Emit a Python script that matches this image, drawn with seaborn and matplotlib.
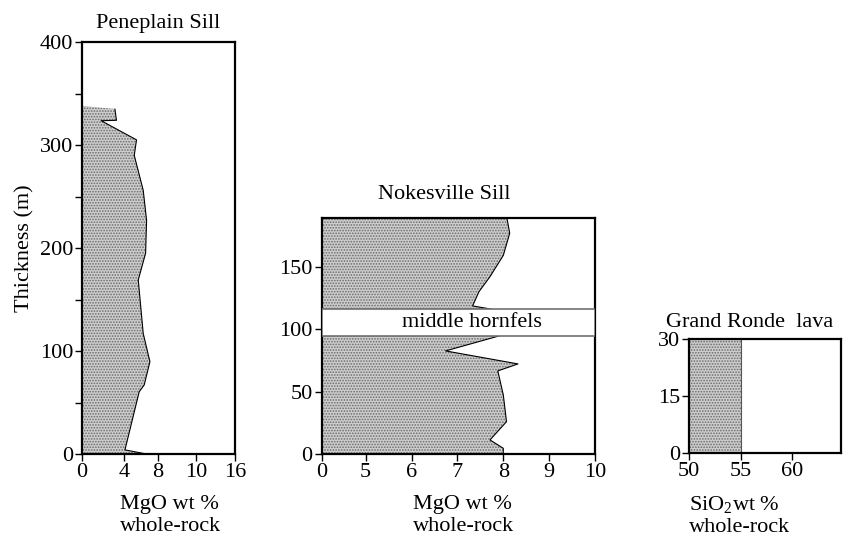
import numpy as np
import pandas as pd
import matplotlib
matplotlib.use("Agg")
import matplotlib.pyplot as plt
import seaborn as sns

# ---- data ----
pen_mgo = [3.44, 3.6, 2.0, 5.7, 5.46, 6.4, 6.75, 6.65, 5.88, 6.4, 7.1, 6.5, 5.98, 4.49, 6.75]
pen_thk = [335, 324, 323.6, 305, 290, 256, 227, 195, 169, 117, 89.6, 67, 60.5, 4, 0]
pen_top = 338
pen_xticks = [0, 4.4, 7.9, 11.9, 16]
pen_xlabels = ["0", "4", "8", "10", "16"]
pen_yticks = [0, 100, 200, 300, 400]

nok_mgo = [8.08, 8.14, 8.0, 7.71, 7.47, 7.33, 7.74, 7.93, 6.74, 8.32, 7.88, 8.0, 8.07, 7.71, 8.0, 8.0]
nok_thk = [188.7, 176.7, 159, 142, 130, 118.6, 116, 94.8, 82.6, 72.2, 66.6, 47.4, 26, 11.4, 4.7, 0]
nok_band = [94.8, 115.9]
nok_xticks = [4.04, 5, 6, 7, 8, 9, 10]
nok_xlabels = ["0", "5", "6", "7", "8", "9", "10"]
nok_yticks = [0, 50, 100, 150]

gr_sio2 = [55, 55]
gr_thk = [30, 0]
gr_xticks = [50, 55, 60]
gr_yticks = [0, 15, 30]

sns.set_theme(style="ticks")
plt.rcParams["font.family"] = ["Liberation Serif", "DejaVu Serif"]
plt.rcParams["mathtext.fontset"] = "custom"
plt.rcParams["mathtext.rm"] = "Liberation Serif"
plt.rcParams["mathtext.it"] = "Liberation Serif:italic"
plt.rcParams["hatch.linewidth"] = 0.8
plt.rcParams["text.color"] = "black"
plt.rcParams["axes.labelcolor"] = "black"
plt.rcParams["axes.titlecolor"] = "black"

FS = 16
fig = plt.figure(figsize=(8.5, 5.38), dpi=100)
ax1 = fig.add_axes([0.0965, 0.1561, 0.18, 0.7658])
ax2 = fig.add_axes([0.3785, 0.1558, 0.3215, 0.4385])
ax3 = fig.add_axes([0.8106, 0.1574, 0.1788, 0.2119])

def style(ax):
    for s in ax.spines.values():
        s.set_linewidth(1.6)
        s.set_color("black")
    ax.tick_params(axis="both", which="both", direction="out", length=5, width=1,
                   labelsize=FS, colors="black", pad=1.5)
    ax.tick_params(axis="y", which="both", right=False)
    ax.tick_params(axis="x", which="both", top=False)

def stipple(ax, xs, ys):
    ax.fill(xs, ys, facecolor="#cdcdcd", edgecolor="#6a6a6a", hatch="......", linewidth=0, zorder=1)

# Peneplain
stipple(ax1, np.r_[0, 0, pen_mgo, 0], np.r_[0, pen_top, pen_thk, 0])
df1 = pd.DataFrame({"mgo": pen_mgo, "thk": pen_thk})
sns.lineplot(data=df1, x="mgo", y="thk", sort=False, estimator=None, color="black",
             lw=0.8, ax=ax1, orient="y")
ax1.set_xlim(0, 16)
ax1.set_ylim(0, 400)
ax1.set_xticks(pen_xticks)
ax1.set_xticklabels(pen_xlabels)
ax1.set_yticks(pen_yticks)
ax1.set_yticks([50, 150, 250, 350], minor=True)
style(ax1)
ax1.set_xlabel("")
ax1.set_ylabel("Thickness (m)", fontsize=FS, labelpad=4)
ax1.set_title("Peneplain Sill", fontsize=FS, pad=10)
ax1.text(0.245, -0.1, "MgO wt %\nwhole-rock", transform=ax1.transAxes, fontsize=FS,
         ha="left", va="top", linespacing=1.2)

# Nokesville
stipple(ax2, np.r_[0, nok_mgo, 0], np.r_[nok_thk[0], nok_thk, 0])
df2 = pd.DataFrame({"mgo": nok_mgo, "thk": nok_thk})
sns.lineplot(data=df2, x="mgo", y="thk", sort=False, estimator=None, color="black",
             lw=0.8, ax=ax2, orient="y")
ax2.axhspan(nok_band[0], nok_band[1], facecolor="white", edgecolor="#707070", lw=1.2, zorder=3)
ax2.text(0.55, (nok_band[0] + nok_band[1]) / 2, "middle hornfels", transform=ax2.get_yaxis_transform(),
         ha="center", va="center", fontsize=FS, zorder=4)
ax2.set_xlim(4.04, 10)
ax2.set_ylim(0, 188.7)
ax2.set_xticks(nok_xticks)
ax2.set_xticklabels(nok_xlabels)
ax2.set_yticks(nok_yticks)
style(ax2)
ax2.set_xlabel("")
ax2.set_ylabel("")
ax2.text(0.45, 1.1, "Nokesville Sill", transform=ax2.transAxes, fontsize=FS, ha="center", va="center")
ax2.text(0.335, -0.175, "MgO wt %\nwhole-rock", transform=ax2.transAxes, fontsize=FS,
         ha="left", va="top", linespacing=1.2)

# Grand Ronde
stipple(ax3, [50, 50, gr_sio2[0], gr_sio2[1]], [0, 30, gr_thk[0], gr_thk[1]])
df3 = pd.DataFrame({"si": gr_sio2, "thk": gr_thk})
sns.lineplot(data=df3, x="si", y="thk", sort=False, estimator=None, color="#555555",
             lw=0.8, ax=ax3, orient="y")
ax3.set_xlim(50, 64.7)
ax3.set_ylim(0, 30)
ax3.set_xticks(gr_xticks)
ax3.set_yticks(gr_yticks)
style(ax3)
ax3.set_xlabel("")
ax3.set_ylabel("")
ax3.text(0.4, 1.15, "Grand Ronde  lava", transform=ax3.transAxes, fontsize=FS, ha="center", va="center")
ax3.text(0.0, -0.36, "SiO$_2$wt %\nwhole-rock", transform=ax3.transAxes, fontsize=FS,
         ha="left", va="top", linespacing=1.2)

fig.savefig("out.png", dpi=100)
